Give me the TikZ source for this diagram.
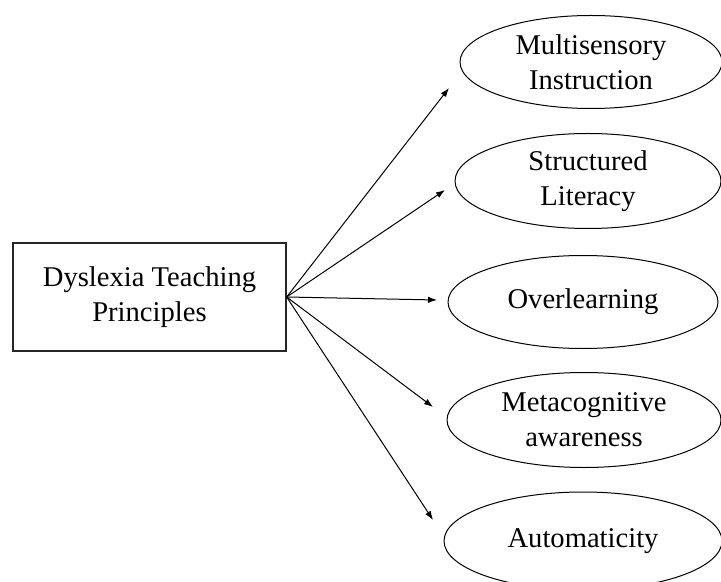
\documentclass[tikz,border=0pt]{standalone}
\usepackage{fontspec}
\setmainfont{Liberation Serif}
\usepackage{tikz}
\usetikzlibrary{shapes,arrows.meta}

\begin{document}
\begin{tikzpicture}[x=0.5pt,y=-0.5pt,
    font=\fontsize{14.3}{17.5}\selectfont,
    >={Latex[length=4.5pt,width=3.2pt]}]
    \tikzstyle{every node}=[align=center,inner sep=0pt]
    \tikzstyle{mainbox}=[rectangle,draw=black!85,line width=0.65pt,
        minimum width=136.5pt,minimum height=54pt]
    \tikzstyle{principle}=[ellipse,draw,line width=0.5pt,minimum height=46.5pt]
    \tikzstyle{link}=[->,line width=0.5pt]
    \useasboundingbox (0,0) rectangle (721,582);
    \node[mainbox] (dtp) at (149.5,297) {Dyslexia Teaching\\Principles};
    \node[principle,minimum width=131pt] (msi) at (591,62) {Multisensory\\Instruction};
    \node[principle,minimum width=133pt,minimum height=47.5pt] (sl) at (588,181) {Structured\\Literacy};
    \node[principle,minimum width=135pt] (ol) at (583,302) {Overlearning};
    \node[principle,minimum width=137pt,minimum height=47.5pt] (ma) at (584,420) {Metacognitive\\awareness};
    \node[principle,minimum width=139pt,minimum height=49pt] (au) at (583,541) {Automaticity};
    % arrow tips stop short of the ellipses
    \coordinate (tmsi) at (449,88);
    \coordinate (tsl) at (445,190);
    \coordinate (tol) at (437,300);
    \coordinate (tma) at (433,407);
    \coordinate (tau) at (433,520);
    \foreach \t in {tmsi,tsl,tol,tma,tau}
        \draw[link] (dtp.east) -- (\t);
\end{tikzpicture}
\end{document}
